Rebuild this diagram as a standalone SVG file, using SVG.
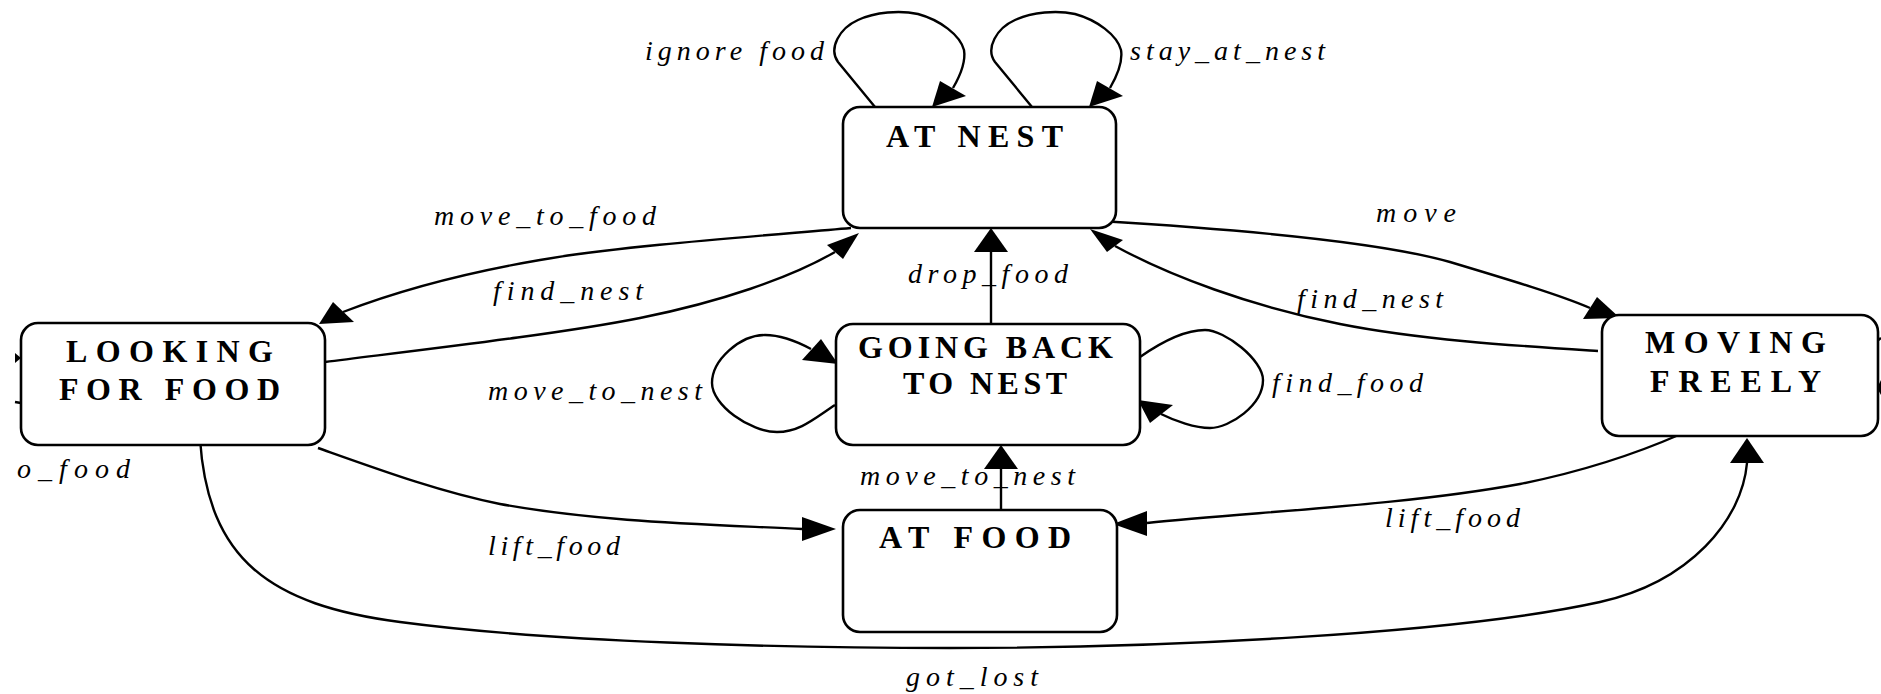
<svg xmlns="http://www.w3.org/2000/svg" width="1881" height="694" viewBox="0 0 1881 694">
<style>
.box{fill:#fff;stroke:#000;stroke-width:2.6}
.edge{fill:none;stroke:#000;stroke-width:2.4}
.ah{fill:#000;stroke:none}
.nl{font-family:"Liberation Serif","Times New Roman",serif;font-weight:bold;font-size:32px;fill:#000}
.el{font-family:"Liberation Serif","Times New Roman",serif;font-style:italic;font-size:28px;fill:#000}
</style>
<rect x="0" y="0" width="1881" height="694" fill="#fff"/>
<g id="connectors">
  <!-- ignore food self loop -->
  <path class="edge" d="M875,107 L838,62 C828,48 840,28 858,20 C875,12 900,10 918,14 C940,20 960,35 964,50 C966,62 960,76 953,88"/>
  <polygon class="ah" points="932,107 940,81 966,96"/>
  <!-- stay_at_nest self loop -->
  <path class="edge" d="M1032,107 L995,62 C985,48 997,28 1015,20 C1032,12 1057,10 1075,14 C1097,20 1117,35 1121,50 C1123,62 1117,76 1110,88"/>
  <polygon class="ah" points="1089,107 1097,81 1123,96"/>
  <!-- move_to_food: AT NEST -> LOOKING -->
  <path class="edge" d="M851,228 C760,236 620,246 540,260 C470,272 400,290 343,312"/>
  <polygon class="ah" points="319,324 333,302 354,322"/>
  <!-- find_nest: LOOKING -> AT NEST -->
  <path class="edge" d="M325,362 C420,350 560,334 640,318 C720,302 790,278 835,252"/>
  <polygon class="ah" points="859,233 827,245 843,259"/>
  <!-- move: AT NEST -> MOVING -->
  <path class="edge" d="M1100,221 C1250,230 1380,242 1450,262 C1510,280 1560,295 1590,308"/>
  <polygon class="ah" points="1620,318 1583,319 1597,297"/>
  <!-- find_nest: MOVING -> AT NEST -->
  <path class="edge" d="M1598,351 C1520,346 1420,340 1340,324 C1250,306 1170,276 1115,246"/>
  <polygon class="ah" points="1090,229 1123,240 1107,252"/>
  <!-- drop_food -->
  <path class="edge" d="M991,324 L991,252"/>
  <polygon class="ah" points="991,228 974,252 1008,252"/>
  <!-- move_to_nest self loop -->
  <path class="edge" d="M835,405 C815,418 800,432 777,432 C750,432 712,405 712,383 C712,360 740,335 765,335 C780,335 798,342 811,349"/>
  <polygon class="ah" points="838,364 802,360 821,339"/>
  <!-- find_food self loop -->
  <path class="edge" d="M1140,357 C1160,343 1185,330 1205,330 C1225,330 1263,360 1263,380 C1263,405 1230,428 1210,428 C1195,428 1175,421 1161,414"/>
  <polygon class="ah" points="1138,400 1150,423 1173,405"/>
  <!-- move_to_nest: AT FOOD -> GOING BACK -->
  <path class="edge" d="M1001,510 L1001,469"/>
  <polygon class="ah" points="1001,445 984,469 1018,469"/>
  <!-- lift_food: LOOKING -> AT FOOD -->
  <path class="edge" d="M318,448 C380,470 440,492 500,504 C600,522 700,524 802,529"/>
  <polygon class="ah" points="836,529 802,517 802,541"/>
  <!-- lift_food: MOVING -> AT FOOD -->
  <path class="edge" d="M1681,434 C1640,452 1590,470 1520,484 C1400,506 1250,512 1147,523"/>
  <polygon class="ah" points="1113,524 1147,511 1147,536"/>
  <!-- got_lost: LOOKING -> MOVING -->
  <path class="edge" d="M200,439 C208,560 270,605 400,622 C550,642 780,648 950,648 C1150,648 1450,635 1600,602 C1690,582 1742,520 1747,463"/>
  <polygon class="ah" points="1747,438 1730,463 1764,463"/>
  <!-- cropped fragments at the picture edges -->
  <path class="edge" d="M15,402 L21,403"/>
  <polygon class="ah" points="15,353 21,358 15,363"/>
  <path class="edge" d="M1877,341 L1881,338"/>
  <polygon class="ah" points="1877,388 1881,380 1881,395"/>
</g>
<g id="edge-labels">
  <text class="el" x="645" y="60" textLength="179" lengthAdjust="spacing">ignore food</text>
  <text class="el" x="1130" y="60" textLength="195" lengthAdjust="spacing">stay_at_nest</text>
  <text class="el" x="434" y="225" textLength="222" lengthAdjust="spacing">move_to_food</text>
  <text class="el" x="493" y="300" textLength="150" lengthAdjust="spacing">find_nest</text>
  <text class="el" x="1376" y="222" textLength="80" lengthAdjust="spacing">move</text>
  <text class="el" x="1297" y="308" textLength="146" lengthAdjust="spacing">find_nest</text>
  <text class="el" x="908" y="283" textLength="160" lengthAdjust="spacing">drop_food</text>
  <text class="el" x="488" y="400" textLength="214" lengthAdjust="spacing">move_to_nest</text>
  <text class="el" x="1272" y="392" textLength="151" lengthAdjust="spacing">find_food</text>
  <text class="el" x="860" y="485" textLength="215" lengthAdjust="spacing">move_to_nest</text>
  <text class="el" x="17" y="478" textLength="113" lengthAdjust="spacing">o_food</text>
  <text class="el" x="488" y="555" textLength="132" lengthAdjust="spacing">lift_food</text>
  <text class="el" x="1385" y="527" textLength="135" lengthAdjust="spacing">lift_food</text>
  <text class="el" x="906" y="686" textLength="132" lengthAdjust="spacing">got_lost</text>
</g>
<g id="at-nest">
  <rect class="box" x="843" y="107" width="273" height="121" rx="17"/>
  <text class="nl" x="886" y="147" textLength="177" lengthAdjust="spacing">AT NEST</text>
</g>
<g id="looking-for-food">
  <rect class="box" x="21" y="323" width="304" height="122" rx="17"/>
  <text class="nl" x="66" y="362" textLength="207" lengthAdjust="spacing">LOOKING</text>
  <text class="nl" x="59" y="400" textLength="221" lengthAdjust="spacing">FOR FOOD</text>
</g>
<g id="going-back-to-nest">
  <rect class="box" x="836" y="324" width="304" height="121" rx="17"/>
  <text class="nl" x="858" y="358" textLength="255" lengthAdjust="spacing">GOING BACK</text>
  <text class="nl" x="903" y="394" textLength="164" lengthAdjust="spacing">TO NEST</text>
</g>
<g id="moving-freely">
  <rect class="box" x="1602" y="315" width="276" height="121" rx="17"/>
  <text class="nl" x="1645" y="353" textLength="181" lengthAdjust="spacing">MOVING</text>
  <text class="nl" x="1650" y="392" textLength="171" lengthAdjust="spacing">FREELY</text>
</g>
<g id="at-food">
  <rect class="box" x="843" y="510" width="274" height="122" rx="17"/>
  <text class="nl" x="879" y="548" textLength="192" lengthAdjust="spacing">AT FOOD</text>
</g>
</svg>
